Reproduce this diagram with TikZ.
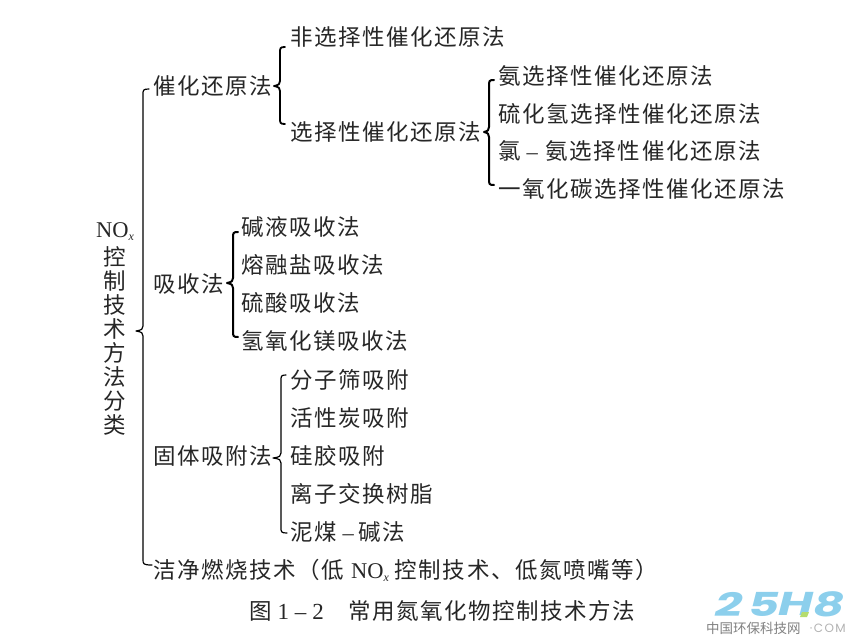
\documentclass[tikz,border=0pt]{standalone}
\usepackage{fontspec}
\setmainfont{Liberation Serif}
\newfontfamily\cjk[LetterSpace=7]{Noto Sans CJK SC}
\newfontfamily\cjkplain{Noto Sans CJK SC}
\newfontfamily\lat{Liberation Serif}
\newfontfamily\logof{Poppins}
\newfontfamily\logotail[LetterSpace=12]{Poppins}
\tikzset{
  lab/.style={anchor=west,inner sep=0pt,outer sep=0pt,font=\fontsize{22.5}{23}\selectfont\cjk,text=black!85},
  col/.style={anchor=center,inner sep=0pt,outer sep=0pt,font=\fontsize{22.5}{23}\selectfont\cjkplain,text=black!85},
  brace/.style={draw=black,line width=#1,line join=round,line cap=round},
  brace/.default=1.2pt,
  logo/.style={anchor=center,inner sep=0pt,font=\fontsize{33}{33}\selectfont\logof\bfseries\itshape,text=logoblue},
}
\definecolor{logoblue}{HTML}{8CCFEC}
\definecolor{logogreen}{HTML}{B5DC6E}
\newcommand{\nox}[1]{{\lat\fontsize{22.5}{23}\selectfont NO\raisebox{-3pt}{\fontsize{12}{12}\selectfont\itshape x}}}
\newcommand{\bracepath}[7]{%
  (#5,#2) .. controls (#1,#2) and (#1,#2+1) .. (#1,#2+6)
  -- (#1,#3-5) .. controls (#1,#3-2) and (#1-1,#3-1) .. (#7,#3)
  .. controls (#1-1,#3+1) and (#1,#3+2) .. (#1,#3+5)
  -- (#1,#4-6) .. controls (#1,#4-1) and (#1,#4) .. (#6,#4)}
\begin{document}
\begin{tikzpicture}[x=1pt,y=-1pt]
\useasboundingbox (0,0) rectangle (854,642);
% top-level
\node[col] (nox) at (115,232) {\nox{}};
\node[col] (c1) at (115,257) {控};
\node[col] (c2) at (115,281) {制};
\node[col] (c3) at (115,305) {技};
\node[col] (c4) at (115,329) {术};
\node[col] (c5) at (115,353) {方};
\node[col] (c6) at (115,377) {法};
\node[col] (c7) at (115,401) {分};
\node[col] (c8) at (115,425) {类};
% level 1
\node[lab] (cat) at (153,86) {催化还原法};
\node[lab] (abs) at (153,284) {吸收法};
\node[lab] (ads) at (153,456) {固体吸附法};
\node[lab] (clean) at (153,570) {洁净燃烧技术（低\hspace{7pt}\nox{}\hspace{6pt}控制技术、低氮喷嘴等）};
% level 2
\node[lab] (nonsel) at (290,37) {非选择性催化还原法};
\node[lab] (sel) at (290,132) {选择性催化还原法};
\node[lab] (a1) at (498,76) {氨选择性催化还原法};
\node[lab] (a2) at (498,114) {硫化氢选择性催化还原法};
\node[lab] (a3) at (498,151) {氯\hspace{6pt}{\lat–}\hspace{8pt}氨选择性催化还原法};
\node[lab] (a4) at (498,189) {一氧化碳选择性催化还原法};
\node[lab] (b1) at (241,227) {碱液吸收法};
\node[lab] (b2) at (241,265) {熔融盐吸收法};
\node[lab] (b3) at (241,303) {硫酸吸收法};
\node[lab] (b4) at (241,341) {氢氧化镁吸收法};
\node[lab] (d1) at (290,380) {分子筛吸附};
\node[lab] (d2) at (290,418) {活性炭吸附};
\node[lab] (d3) at (290,456) {硅胶吸附};
\node[lab] (d4) at (290,494) {离子交换树脂};
\node[lab] (d5) at (290,532) {泥煤\hspace{6pt}{\lat–}\hspace{5pt}碱法};
% caption
\node[lab] (cap) at (249,611) {图\hspace{6pt}{\lat\fontsize{23}{23}\selectfont 1\hspace{6pt}–\hspace{6pt}2}\hspace{24pt}常用氮氧化物控制技术方法};
% braces
\draw[brace=1.2pt] \bracepath{143}{89}{331}{565}{149}{152}{136};
\draw[brace=1.8pt] \bracepath{280}{47}{86}{124}{285}{285}{274};
\draw[brace=2pt] \bracepath{489}{80}{132}{185}{494}{494}{484};
\draw[brace=2pt] \bracepath{233}{232}{283}{337}{238}{238}{227};
\draw[brace=1.2pt] \bracepath{281}{375}{458}{533}{286}{287}{273};
% watermark
\node[logo] (w1) at (729,604) {\scalebox{1.45}[1]{2}};
\node[logo] (w2) at (764,604) {\scalebox{1.45}[1]{5}};
\node[logo] (w3) at (796,604) {\scalebox{1.45}[1]{H}};
\node[logo] (w4) at (829,604) {\scalebox{1.45}[1]{8}};
\fill[logogreen] (802,612) -- (809,612) -- (807,617) -- (800,617) -- cycle;
\node[anchor=west,inner sep=0pt,font=\fontsize{13.5}{13.5}\selectfont\cjkplain,text=black!50] (wt) at (706,628) {中国环保科技网};
\node[anchor=east,inner sep=0pt,font=\fontsize{12}{12}\selectfont\logotail,text=black!30] (wc) at (846,628) {·COM};
\end{tikzpicture}
\end{document}
